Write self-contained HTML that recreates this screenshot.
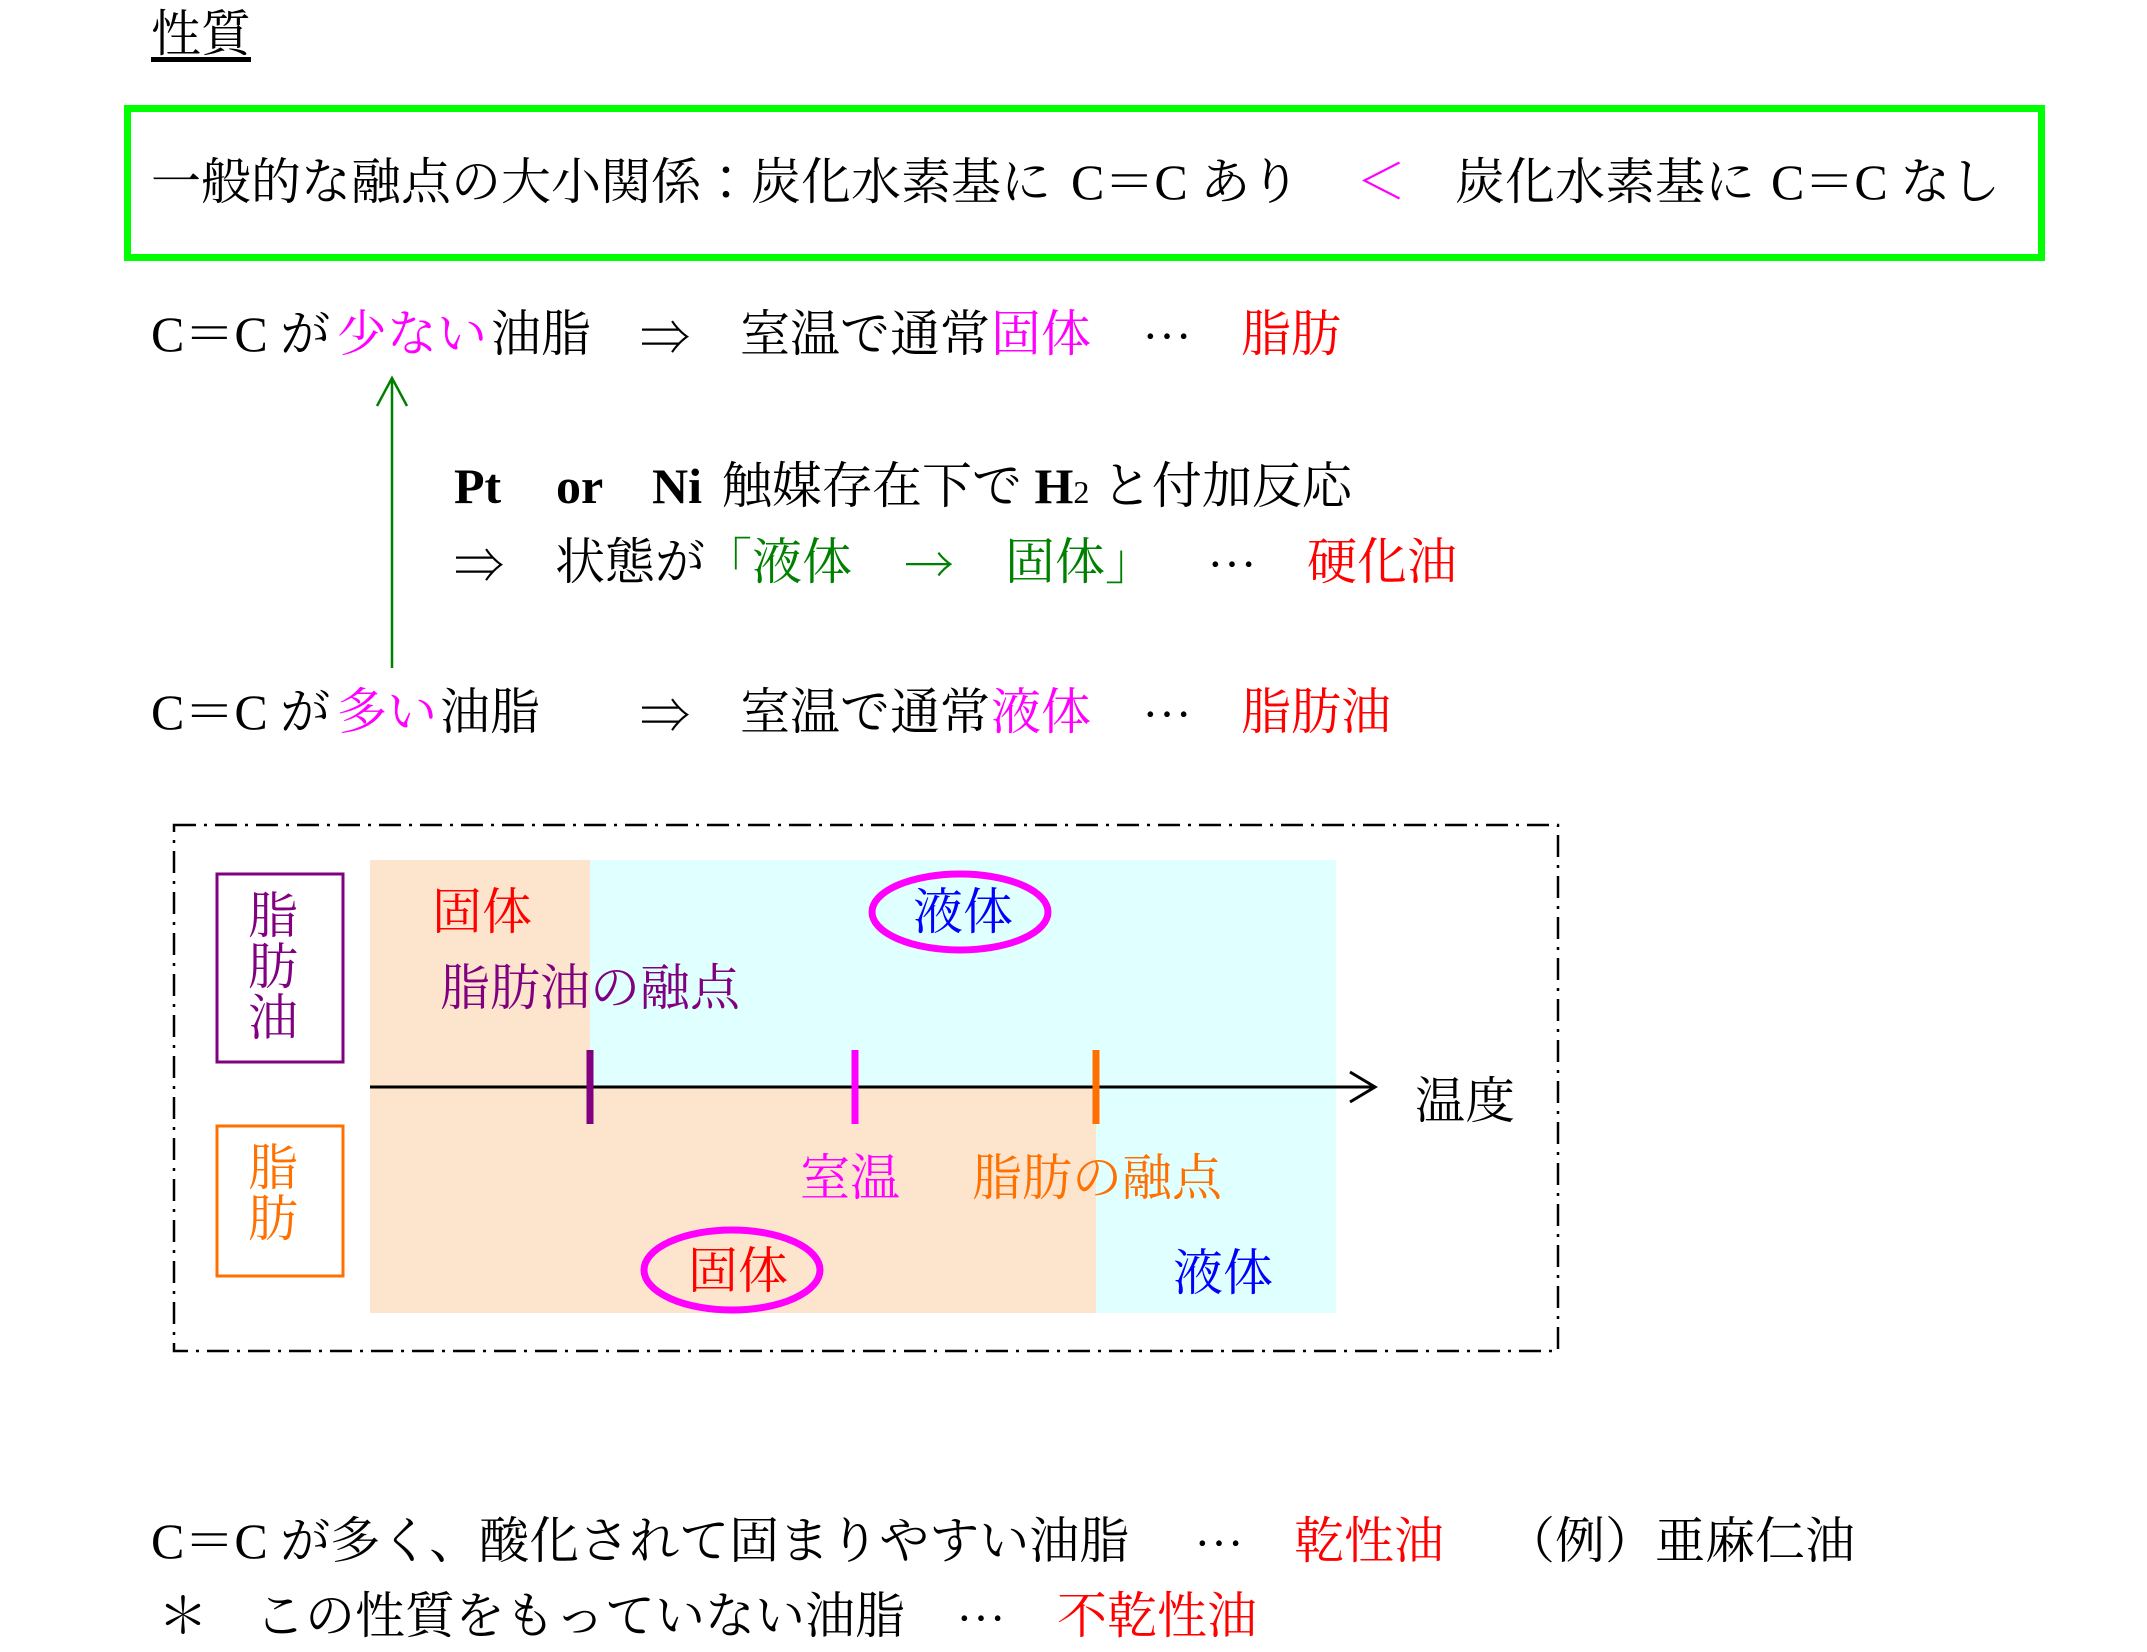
<!DOCTYPE html>
<html><head><meta charset="utf-8"><style>
html,body{margin:0;padding:0;background:#fff;}
body{width:2147px;height:1639px;position:relative;overflow:hidden;font-family:"Liberation Serif","Noto Serif CJK JP",serif;font-size:50px;color:#000;}
.t{position:absolute;white-space:nowrap;line-height:60px;height:60px;}
.j{font-family:"Noto Serif CJK JP",serif;}
.m{color:#ff00ff}.r{color:#ff0000}.g{color:#008000}.b{color:#0000ff}.p{color:#800080}.o{color:#ff7000}
.lat{font-weight:bold}
</style></head><body>

<div class="t" style="left:151px;top:4px;text-decoration:underline;text-underline-offset:6px;">性質</div>

<div style="position:absolute;left:124px;top:105px;width:1907px;height:142px;border:7px solid #00ff00;"></div>
<div class="t" style="left:151px;top:152px;">一般的な融点の大小関係：炭化水素基に</div>
<div class="t" style="left:1071px;top:152px;">C＝C あり</div>
<div class="t m" style="left:1356px;top:152px;">＜</div>
<div class="t" style="left:1455px;top:152px;">炭化水素基に</div>
<div class="t" style="left:1771px;top:152px;">C＝C なし</div>

<div class="t" style="left:151px;top:304px;">C＝C が</div>
<div class="t m" style="left:337px;top:304px;">少ない</div>
<div class="t" style="left:491px;top:304px;">油脂</div>
<div class="t j" style="left:640px;top:304px;">⇒</div>
<div class="t" style="left:740px;top:304px;">室温で通常</div>
<div class="t m" style="left:991px;top:304px;">固体</div>
<div class="t j" style="left:1142px;top:304px;">⋯</div>
<div class="t r" style="left:1241px;top:304px;">脂肪</div>

<svg style="position:absolute;left:0;top:0" width="2147" height="1639">
<line x1="392" y1="668" x2="392" y2="380" stroke="#008000" stroke-width="2.5"/>
<polyline points="377,406 392,378 407,406" fill="none" stroke="#008000" stroke-width="2.5"/>
</svg>

<div class="t lat" style="left:454px;top:456px;">Pt</div>
<div class="t lat" style="left:556px;top:456px;">or</div>
<div class="t lat" style="left:652px;top:456px;">Ni</div>
<div class="t" style="left:722px;top:456px;">触媒存在下で <b>H</b><span style="font-size:32px">2</span> と付加反応</div>

<div class="t j" style="left:454px;top:532px;">⇒</div>
<div class="t" style="left:555px;top:532px;">状態が</div>
<div class="t g" style="left:702px;top:532px;">「液体</div>
<div class="t g j" style="left:904px;top:532px;">→</div>
<div class="t g" style="left:1005px;top:532px;">固体」</div>
<div class="t j" style="left:1207px;top:532px;">⋯</div>
<div class="t r" style="left:1307px;top:532px;">硬化油</div>

<div class="t" style="left:151px;top:682px;">C＝C が</div>
<div class="t m" style="left:337px;top:682px;">多い</div>
<div class="t" style="left:440px;top:682px;">油脂</div>
<div class="t j" style="left:640px;top:682px;">⇒</div>
<div class="t" style="left:740px;top:682px;">室温で通常</div>
<div class="t m" style="left:991px;top:682px;">液体</div>
<div class="t j" style="left:1142px;top:682px;">⋯</div>
<div class="t r" style="left:1241px;top:682px;">脂肪油</div>

<svg style="position:absolute;left:0;top:0" width="2147" height="1639">
<rect x="370" y="860" width="220" height="227" fill="#fde4cc"/>
<rect x="590" y="860" width="746" height="227" fill="#e0ffff"/>
<rect x="370" y="1087" width="726" height="226" fill="#fde4cc"/>
<rect x="1096" y="1087" width="240" height="226" fill="#e0ffff"/>
<rect x="174" y="825" width="1384" height="526" fill="none" stroke="#000" stroke-width="2.5" stroke-dasharray="22,8,3,8"/>
<rect x="217" y="874" width="126" height="188" fill="none" stroke="#800080" stroke-width="3"/>
<rect x="217" y="1126" width="126" height="150" fill="none" stroke="#ff7000" stroke-width="3"/>
<line x1="370" y1="1087" x2="1374" y2="1087" stroke="#000" stroke-width="3"/>
<polyline points="1350,1072 1375,1087 1350,1102" fill="none" stroke="#000" stroke-width="3"/>
<line x1="590" y1="1050" x2="590" y2="1124" stroke="#800080" stroke-width="7"/>
<line x1="855" y1="1050" x2="855" y2="1124" stroke="#ff00ff" stroke-width="7"/>
<line x1="1096" y1="1050" x2="1096" y2="1124" stroke="#ff7000" stroke-width="7"/>
<ellipse cx="960" cy="912" rx="88" ry="38" fill="none" stroke="#ff00ff" stroke-width="7"/>
<ellipse cx="732" cy="1270" rx="88" ry="40" fill="none" stroke="#ff00ff" stroke-width="7"/>
</svg>

<div class="t p" style="left:248px;top:886px;">脂</div>
<div class="t p" style="left:248px;top:937px;">肪</div>
<div class="t p" style="left:248px;top:988px;">油</div>
<div class="t o" style="left:248px;top:1138px;">脂</div>
<div class="t o" style="left:248px;top:1189px;">肪</div>

<div class="t r" style="left:432px;top:882px;">固体</div>
<div class="t p" style="left:440px;top:958px;">脂肪油の融点</div>
<div class="t b" style="left:913px;top:882px;">液体</div>
<div class="t" style="left:1415px;top:1071px;">温度</div>
<div class="t m" style="left:800px;top:1148px;">室温</div>
<div class="t o" style="left:972px;top:1148px;">脂肪の融点</div>
<div class="t r" style="left:688px;top:1241px;">固体</div>
<div class="t b" style="left:1173px;top:1243px;">液体</div>

<div class="t" style="left:151px;top:1511px;">C＝C が多く、酸化されて固まりやすい油脂</div>
<div class="t j" style="left:1194px;top:1511px;">⋯</div>
<div class="t r" style="left:1294px;top:1511px;">乾性油</div>
<div class="t" style="left:1505px;top:1511px;">（例）亜麻仁油</div>

<div class="t" style="left:158px;top:1586px;">＊</div>
<div class="t" style="left:255px;top:1586px;">この性質をもっていない油脂</div>
<div class="t j" style="left:956px;top:1586px;">⋯</div>
<div class="t r" style="left:1057px;top:1586px;">不乾性油</div>

</body></html>
